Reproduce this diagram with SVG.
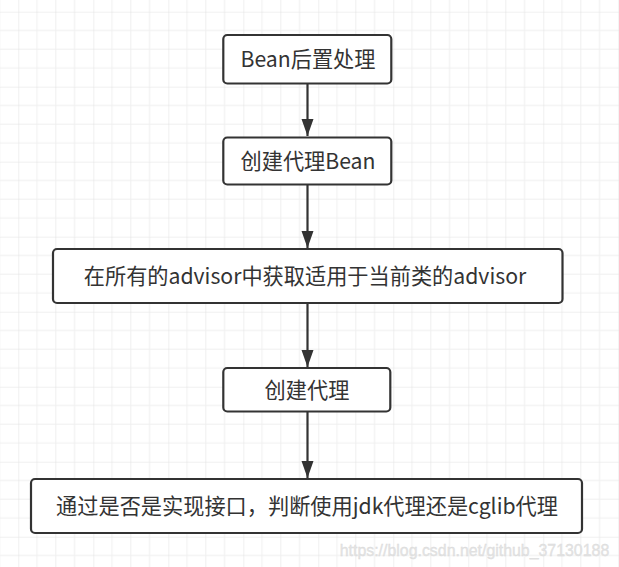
<svg xmlns="http://www.w3.org/2000/svg" width="619" height="567" viewBox="0 0 619 567">
<defs>
<pattern id="grid" patternUnits="userSpaceOnUse" x="18.3" y="11.7" width="75" height="75">
<path d="M18.75 0V75M37.5 0V75M56.25 0V75M0 18.75H75M0 37.5H75M0 56.25H75" stroke="#efefef" stroke-width="1" fill="none"/>
<path d="M0 0V75M0 0H75" stroke="#e2e2e2" stroke-width="1" fill="none"/>
</pattern>
<marker id="arr" markerUnits="userSpaceOnUse" markerWidth="18" markerHeight="13" refX="17" refY="6" orient="auto" viewBox="0 0 18 12">
<path d="M0 0L17 6L0 12Z" fill="#333"/>
</marker>
<style>
.box{fill:#fff;stroke:#333;stroke-width:2.2}
.t{font-family:"Microsoft YaHei","Noto Sans CJK SC",sans-serif;font-size:21.2px;fill:#333;text-anchor:middle}
.c{stroke:#333;stroke-width:2.2;fill:none}
</style>
</defs>
<rect width="619" height="567" fill="#fff"/>
<rect width="619" height="567" fill="url(#grid)"/>
<g id="connectors">
<line class="c" x1="307.5" y1="84" x2="307.5" y2="136" marker-end="url(#arr)"/>
<line class="c" x1="307.5" y1="185" x2="307.5" y2="248" marker-end="url(#arr)"/>
<line class="c" x1="307.5" y1="304" x2="307.5" y2="367" marker-end="url(#arr)"/>
<line class="c" x1="307.5" y1="412" x2="307.5" y2="478" marker-end="url(#arr)"/>
</g>
<g id="n1"><rect class="box" x="223.3" y="35" width="168" height="48.5" rx="4"/><text class="t" x="308" y="67">Bean后置处理</text></g>
<g id="n2"><rect class="box" x="223.3" y="137.5" width="168" height="47" rx="4"/><text class="t" x="308" y="168.5">创建代理Bean</text></g>
<g id="n3"><rect class="box" x="53" y="249" width="509.5" height="54" rx="4"/><text class="t" x="305" y="284">在所有的advisor中获取适用于当前类的advisor</text></g>
<g id="n4"><rect class="box" x="223.3" y="368" width="167" height="43.5" rx="4"/><text class="t" x="307" y="397.5">创建代理</text></g>
<g id="n5"><rect class="box" x="31" y="479" width="551" height="54" rx="4"/><text class="t" x="307" y="514">通过是否是实现接口，判断使用jdk代理还是cglib代理</text></g>
<text x="474.5" y="556" font-family="Liberation Sans, Arial, sans-serif" font-size="15.9" fill="#e4e4e4" stroke="#d8d8d8" stroke-width="0.3" text-anchor="middle">https://blog.csdn.net/github_37130188</text>
</svg>
